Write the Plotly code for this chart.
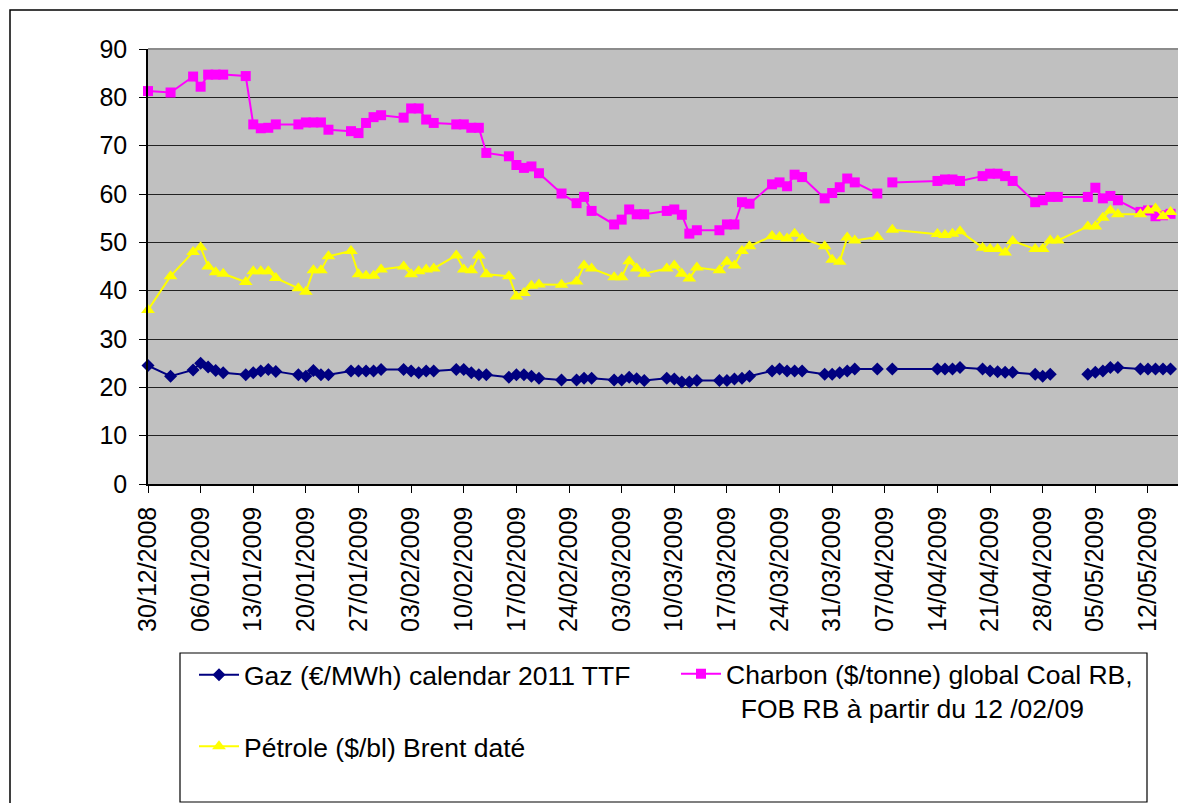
import plotly.graph_objects as go

dates = [
    "2008-12-30", "2009-01-02",
    "2009-01-05", "2009-01-06", "2009-01-07", "2009-01-08", "2009-01-09",
    "2009-01-12", "2009-01-13", "2009-01-14", "2009-01-15", "2009-01-16",
    "2009-01-19", "2009-01-20", "2009-01-21", "2009-01-22", "2009-01-23",
    "2009-01-26", "2009-01-27", "2009-01-28", "2009-01-29", "2009-01-30",
    "2009-02-02", "2009-02-03", "2009-02-04", "2009-02-05", "2009-02-06",
    "2009-02-09", "2009-02-10", "2009-02-11", "2009-02-12", "2009-02-13",
    "2009-02-16", "2009-02-17", "2009-02-18", "2009-02-19", "2009-02-20",
    "2009-02-23",
    "2009-02-25", "2009-02-26", "2009-02-27",
    "2009-03-02", "2009-03-03", "2009-03-04", "2009-03-05", "2009-03-06",
    "2009-03-09", "2009-03-10", "2009-03-11", "2009-03-12", "2009-03-13",
    "2009-03-16", "2009-03-17", "2009-03-18", "2009-03-19", "2009-03-20",
    "2009-03-23", "2009-03-24", "2009-03-25", "2009-03-26", "2009-03-27",
    "2009-03-30", "2009-03-31", "2009-04-01", "2009-04-02", "2009-04-03",
    "2009-04-06", "2009-04-07", "2009-04-08",
    "2009-04-14", "2009-04-15", "2009-04-16", "2009-04-17",
    "2009-04-20", "2009-04-21", "2009-04-22", "2009-04-23", "2009-04-24",
    "2009-04-27", "2009-04-28", "2009-04-29", "2009-04-30",
    "2009-05-04", "2009-05-05", "2009-05-06", "2009-05-07", "2009-05-08",
    "2009-05-11", "2009-05-12", "2009-05-13", "2009-05-14", "2009-05-15",
]

gaz = [
    24.5, 22.3,
    23.6, 25.0, 24.2, 23.5, 23.0,
    22.6, 23.0, 23.4, 23.7, 23.3,
    22.6, 22.3, 23.5, 22.6, 22.6,
    23.4, 23.4, 23.4, 23.4, 23.7,
    23.7, 23.4, 23.0, 23.4, 23.4,
    23.7, 23.7, 23.0, 22.6, 22.6,
    22.1, 22.6, 22.6, 22.3, 21.9,
    21.5,
    21.5, 21.9, 21.9,
    21.5, 21.5, 22.1, 21.8, 21.4,
    21.9, 21.7, 21.1, 21.1, 21.4,
    21.4, 21.4, 21.7, 21.9, 22.3,
    23.4, 23.8, 23.4, 23.4, 23.4,
    22.7, 22.7, 23.0, 23.4, 23.8,
    23.8, None, 23.8,
    23.8, 23.8, 23.8, 24.1,
    23.8, 23.4, 23.2, 23.1, 23.1,
    22.7, 22.3, 22.7, None,
    22.7, 23.1, 23.4, 24.1, 24.1,
    23.8, 23.8, 23.8, 23.8, 23.8,
]

charbon = [
    81.3, 81.0,
    84.3, 82.2, 84.7, 84.7, 84.7,
    84.4, 74.4, 73.6, 73.7, 74.4,
    74.4, 74.8, 74.8, 74.8, 73.3,
    73.0, 72.6, 74.7, 75.9, 76.3,
    75.8, 77.7, 77.7, 75.4, 74.7,
    74.4, 74.4, 73.7, 73.7, 68.5,
    67.8, 66.0, 65.4, 65.7, 64.3,
    60.1,
    58.1, 59.4, 56.5,
    53.7, 54.7, 56.8, 55.8, 55.8,
    56.5, 56.8, 55.7, 51.8, 52.5,
    52.5, 53.7, 53.7, 58.3, 58.0,
    62.0, 62.4, 61.6, 64.0, 63.5,
    59.1, 60.2, 61.4, 63.2, 62.4,
    60.1, None, 62.4,
    62.7, 63.0, 63.0, 62.7,
    63.7, 64.2, 64.2, 63.7, 62.7,
    58.3, 58.7, 59.4, 59.4,
    59.4, 61.3, 59.1, 59.6, 58.7,
    56.3, 56.6, 55.4, 55.6, 55.9,
]

petrole = [
    36.0, 43.0,
    48.0, 49.0, 45.0, 43.8, 43.5,
    41.8, 44.0, 44.0, 44.0, 42.6,
    40.5, 39.8, 44.2, 44.2, 47.1,
    48.2, 43.4, 43.1, 43.1, 44.4,
    45.0, 43.4, 44.0, 44.4, 44.6,
    47.3, 44.4, 44.2, 47.3, 43.4,
    43.0, 38.8, 39.5, 41.0, 41.3,
    41.2,
    41.9, 45.2, 44.6,
    42.8, 42.8, 46.1, 44.6, 43.5,
    44.6, 45.2, 43.5, 42.5, 44.8,
    44.2, 46.0, 45.2, 48.2, 49.2,
    51.3, 51.1, 50.8, 51.8, 50.8,
    49.2, 46.4, 46.0, 51.0, 50.4,
    51.1, None, 52.6,
    51.7, 51.5, 51.8, 52.3,
    48.9, 48.6, 48.6, 47.9, 50.3,
    48.6, 48.6, 50.4, 50.4,
    53.3, 53.3, 55.1, 56.6, 55.8,
    55.8, 56.6, 57.0, 55.4, 56.3,
]

names = [
    "Gaz (€/MWh) calendar 2011 TTF",
    "Charbon ($/tonne) global Coal RB,<br>\u00a0\u00a0FOB RB à partir du 12 /02/09",
    "Pétrole ($/bl) Brent daté",
]

FONT = "Liberation Sans, Arial, sans-serif"

fig = go.Figure()
fig.add_trace(go.Scatter(
    x=dates, y=gaz, name=names[0], mode="lines+markers",
    line=dict(color="#000080", width=2),
    marker=dict(symbol="diamond", size=10, color="#000080"),
    cliponaxis=False, legend="legend", legendgroup="g1",
))
fig.add_trace(go.Scatter(
    x=dates, y=charbon, name=names[1], mode="lines+markers",
    line=dict(color="#FF00FF", width=2),
    marker=dict(symbol="square", size=10, color="#FF00FF"),
    cliponaxis=False, legend="legend2", legendgroup="g2",
))
fig.add_trace(go.Scatter(
    x=dates, y=petrole, name=names[2], mode="lines+markers",
    line=dict(color="#FFFF00", width=2),
    marker=dict(symbol="triangle-up", size=12, color="#FFFF00"),
    cliponaxis=False, legend="legend", legendgroup="g3",
))

# page is offset by the 8px body margin
OFF = 8
W, H = 1186 - OFF, 803 - OFF
L, R, T, B = 148 - OFF, 1184 - OFF, 49 - OFF, 484 - OFF
pw, ph = R - L, B - T

def px(x):
    return (x - OFF - L) / pw

def py(y):
    return (B - (y - OFF)) / ph

shapes = [
    dict(type="rect", xref="paper", yref="paper", x0=px(10), x1=px(1300),
         y0=py(10), y1=py(1000), line=dict(color="black", width=1.5),
         fillcolor="rgba(0,0,0,0)", layer="below"),
    dict(type="line", xref="paper", yref="paper", x0=0, x1=1, y0=1, y1=1,
         line=dict(color="#8c8c8c", width=2)),
    dict(type="line", xref="paper", yref="paper", x0=1, x1=1, y0=0, y1=1,
         line=dict(color="#8c8c8c", width=2)),
    dict(type="rect", xref="paper", yref="paper", x0=px(180), x1=px(1147),
         y0=py(653), y1=py(802), line=dict(color="black", width=1.2),
         fillcolor="white", layer="below"),
]

legend_font = dict(family=FONT, size=26.5, color="black")

fig.update_layout(
    width=W, height=H, autosize=False,
    margin=dict(l=L, r=W - R, t=T, b=H - B, pad=0),
    paper_bgcolor="white",
    plot_bgcolor="#C0C0C0",
    font=dict(family=FONT, size=25, color="black"),
    showlegend=True,
    legend=dict(
        orientation="v", x=px(194), y=py(651), xanchor="left", yanchor="top",
        bgcolor="rgba(0,0,0,0)", borderwidth=0, font=legend_font,
        traceorder="grouped", tracegroupgap=34, itemwidth=40,
    ),
    legend2=dict(
        orientation="v", x=px(676), y=py(650), xanchor="left", yanchor="top",
        bgcolor="rgba(0,0,0,0)", borderwidth=0, font=legend_font,
        itemwidth=40, valign="top",
    ),
    shapes=shapes,
    xaxis=dict(
        type="date",
        range=["2008-12-30", "2009-05-16 19:00"],
        tick0="2008-12-30", dtick=7 * 24 * 3600 * 1000,
        tickformat="%d/%m/%Y", tickangle=-90,
        ticks="outside", ticklen=7, tickcolor="black", tickwidth=1,
        showline=True, linecolor="black", linewidth=1.5,
        showgrid=False, zeroline=False,
        tickfont=dict(family=FONT, size=25, color="black"),
        ticklabelstandoff=4,
    ),
    yaxis=dict(
        range=[0, 90], dtick=10, tick0=0,
        ticks="outside", ticklen=7, tickcolor="black", tickwidth=1,
        showline=True, linecolor="black", linewidth=1.5,
        showgrid=True, gridcolor="#222222", gridwidth=1,
        zeroline=False,
        tickfont=dict(family=FONT, size=25, color="black"),
        ticklabelstandoff=7,
    ),
)

fig.write_html("out.html")
